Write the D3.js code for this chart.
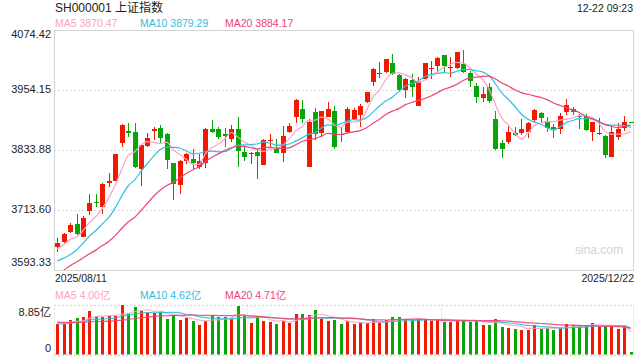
<!DOCTYPE html>
<html><head><meta charset="utf-8">
<script src="https://cdn.jsdelivr.net/npm/d3@7"></script>
<style>html,body{margin:0;padding:0;background:#fff;}svg{display:block;}</style>
</head><body>
<svg id="c" width="640" height="360"></svg>
<script>
// ---------- data ----------
const dates = [
"2025-08-11","2025-08-12","2025-08-13","2025-08-14","2025-08-15","2025-08-18","2025-08-19","2025-08-20","2025-08-21","2025-08-22",
"2025-08-25","2025-08-26","2025-08-27","2025-08-28","2025-08-29","2025-09-01","2025-09-02","2025-09-03","2025-09-04","2025-09-05",
"2025-09-08","2025-09-09","2025-09-10","2025-09-11","2025-09-12","2025-09-15","2025-09-16","2025-09-17","2025-09-18","2025-09-19",
"2025-09-22","2025-09-23","2025-09-24","2025-09-25","2025-09-26","2025-09-29","2025-09-30","2025-10-09","2025-10-10","2025-10-13",
"2025-10-14","2025-10-15","2025-10-16","2025-10-17","2025-10-20","2025-10-21","2025-10-22","2025-10-23","2025-10-24","2025-10-27",
"2025-10-28","2025-10-29","2025-10-30","2025-10-31","2025-11-03","2025-11-04","2025-11-05","2025-11-06","2025-11-07","2025-11-10",
"2025-11-11","2025-11-12","2025-11-13","2025-11-14","2025-11-17","2025-11-18","2025-11-19","2025-11-20","2025-11-21","2025-11-24",
"2025-11-25","2025-11-26","2025-11-27","2025-11-28","2025-12-01","2025-12-02","2025-12-03","2025-12-04","2025-12-05","2025-12-08",
"2025-12-09","2025-12-10","2025-12-11","2025-12-12","2025-12-15","2025-12-16","2025-12-17","2025-12-18","2025-12-19","2025-12-22"];

const opens = [
3638.8,3648.8,3670.1,3685.6,3660.1,3712.2,3730.0,3719.0,3768.0,3772.3,
3848.5,3872.6,3870.0,3796.4,3842.5,3871.4,3878.0,3865.9,3807.2,3763.1,
3812.4,3815.8,3800.0,3807.2,3876.6,3876.0,3865.3,3855.3,3875.4,3829.3,
3826.5,3829.3,3804.4,3851.5,3837.3,3828.5,3870.0,3899.4,3916.0,3800.4,
3910.7,3868.6,3899.4,3912.1,3866.0,3870.6,3895.4,3904.0,3930.7,3970.8,
3985.5,3989.6,4008.3,3984.2,3954.2,3974.2,3922.7,3975.6,3995.6,4002.9,
4024.3,3997.6,3997.6,4006.3,3988.8,3962.2,3938.7,3959.6,3896.0,3847.3,
3850.5,3867.4,3868.6,3870.6,3894.0,3907.4,3892.6,3880.6,3875.4,3910.7,
3916.0,3903.0,3902.6,3869.4,3866.0,3862.0,3820.4,3859.3,3877.4,3890.45];

const highs = [
3656.9,3668.1,3688.2,3705.6,3701.6,3745.7,3745.7,3767.1,3787.2,3826.5,
3885.0,3888.6,3887.4,3845.0,3867.4,3879.4,3884.6,3868.6,3808.4,3814.0,
3828.5,3835.3,3825.0,3877.0,3894.0,3879.4,3877.4,3884.0,3900.6,3839.3,
3830.5,3833.9,3855.3,3866.0,3856.5,3882.0,3887.4,3935.5,3934.1,3895.4,
3918.7,3912.7,3930.7,3922.1,3879.0,3919.4,3918.0,3926.0,3950.8,3998.8,
4010.9,4017.0,4026.3,3986.2,3977.6,3986.2,3979.6,4008.9,4012.3,4019.6,
4025.0,4020.9,4031.0,4034.3,3992.8,3967.6,3959.6,3968.8,3912.1,3854.0,
3882.0,3879.4,3895.4,3890.6,3915.4,3910.7,3900.6,3886.0,3907.4,3936.1,
3920.7,3906.0,3906.0,3890.0,3897.4,3863.0,3882.0,3887.4,3902.0,3890.6];

const lows = [
3630.0,3646.8,3667.0,3663.5,3658.9,3703.6,3720.3,3705.6,3759.1,3772.3,
3840.5,3860.5,3798.0,3761.7,3839.3,3854.0,3847.3,3795.2,3733.7,3745.7,
3805.8,3793.8,3796.0,3797.2,3867.4,3856.5,3839.3,3850.5,3800.4,3812.4,
3805.8,3775.1,3804.4,3839.3,3827.0,3809.8,3867.4,3887.4,3887.4,3800.4,
3853.9,3860.5,3899.4,3836.5,3850.0,3868.6,3894.0,3879.4,3928.7,3962.8,
3977.6,3987.6,3984.8,3952.8,3937.5,3939.5,3922.7,3974.2,3975.6,3990.8,
3990.8,3980.8,3995.6,3989.0,3959.6,3927.5,3930.7,3927.5,3834.0,3817.2,
3845.9,3862.0,3863.9,3857.3,3890.6,3887.4,3869.4,3858.5,3865.3,3904.0,
3904.0,3876.0,3872.0,3852.0,3863.9,3817.2,3819.2,3853.9,3872.6,3890.2];

const closes = [
3647.6,3665.9,3683.5,3666.4,3696.8,3728.0,3727.3,3766.2,3771.1,3825.8,
3883.6,3868.4,3800.4,3843.6,3857.9,3875.5,3858.1,3813.6,3765.9,3812.5,
3826.8,3807.3,3812.2,3875.3,3870.6,3860.5,3861.9,3876.3,3831.7,3820.1,
3828.6,3821.8,3853.6,3853.3,3828.1,3862.5,3882.8,3934.0,3897.0,3889.5,
3865.2,3912.2,3916.2,3839.8,3863.9,3916.3,3913.8,3922.4,3950.3,3996.9,
3988.2,4016.3,3986.9,3954.8,3976.5,3960.2,3969.3,4007.8,3997.6,4018.6,
4002.8,4000.1,4029.5,3990.5,3972.0,3939.8,3946.7,3931.1,3834.9,3836.8,
3870.0,3864.2,3875.3,3888.6,3914.0,3897.7,3878.0,3875.8,3902.8,3924.1,
3909.5,3900.5,3873.3,3889.4,3867.9,3824.8,3870.3,3876.4,3890.5,3890.44];

// volume, 亿
const volumes = [
5.39,5.39,6.09,6.39,6.62,7.67,6.74,6.57,6.80,6.80,
8.85,7.27,8.32,7.73,7.45,7.40,7.45,6.27,6.92,6.09,
6.39,5.97,5.27,5.97,6.92,6.57,6.68,6.27,8.60,6.80,
5.62,6.80,5.97,5.74,5.44,5.97,5.62,7.20,7.20,7.02,
7.90,6.27,5.92,6.09,5.39,5.92,5.39,5.62,5.50,6.21,
5.62,6.09,6.62,6.62,6.09,6.09,6.27,6.27,5.97,6.27,
5.80,5.80,6.09,6.09,5.80,5.92,5.27,5.27,6.27,4.92,
4.74,4.51,4.39,4.39,5.21,4.57,4.74,4.39,4.74,5.39,
5.30,5.04,5.04,5.62,5.04,5.04,5.04,4.51,5.04,0.40];

// sessions before the first visible day (needed for the moving averages)
const prevCloses = [3505.00,3503.78,3516.83,3534.48,3559.79,3581.86,3582.30,3605.73,3593.66,3597.94,
3609.71,3615.72,3573.21,3559.95,3583.31,3617.60,3633.99,3639.67,3635.13];
const prevVolumes = [6.2,5.8,6.4,5.9,6.1,6.3,5.7,5.9,5.8,5.9,5.3,4.8,5.1,4.9,4.9,5.6,6.1,5.9,6.0];

const priceTicks = [4074.42, 3954.15, 3833.88, 3713.60, 3593.33];
const volTicks = [8.85, 0];
const maPeriods = [5, 10, 20];
const maNames = ["MA5", "MA10", "MA20"];
const maPriceValues = ["3870.47", "3879.29", "3884.17"];
const maVolValues = ["4.00亿", "4.62亿", "4.71亿"];
const titleText = "SH000001 上证指数";
const timeText = "12-22 09:23";
const dateLabels = ["2025/08/11", "2025/12/22"];
const watermark = "sina.com";

// ---------- styles ----------
const FONT = '"Liberation Sans", Arial, "Noto Sans CJK SC", sans-serif';
const RED = "#f01a00", GREEN = "#07a507";
const MA_COLORS = ["#fba3c2", "#2ec0e3", "#ee4479"];
const GRID = "#dcdcdc";

const L = 54, R = 634, T = 30, B = 270, VT = 304.5, VB = 354.5;

const svg = d3.select("#c");
const x = d3.scaleBand().domain(dates).range([L, R]).paddingInner(0).paddingOuter(0);
const bw = x.bandwidth();
const cx = d => x(d) + bw / 2;
const y = d3.scaleLinear().domain([priceTicks[4], priceTicks[0]]).range([B, T]);
const yv = d3.scaleLinear().domain([0, volTicks[0]]).range([VB, VT]);

const rows = dates.map((d, i) => ({d, i, o: opens[i], h: highs[i], l: lows[i], c: closes[i], v: volumes[i]}));
const up = r => r.c > r.o || (r.c === r.o && (r.i === 0 || r.c >= closes[r.i - 1]));

function movingAvg(prev, cur, n) {
  const all = prev.concat(cur);
  const off = prev.length;
  return cur.map((_, i) => {
    const k = i + off;
    if (k < n - 1) return null;
    return d3.mean(all.slice(k - n + 1, k + 1));
  });
}

// clip paths
const defs = svg.append("defs");
defs.append("clipPath").attr("id", "clipMain").append("rect").attr("x", L).attr("y", T).attr("width", R - L).attr("height", B - T);
defs.append("clipPath").attr("id", "clipVol").append("rect").attr("x", L).attr("y", VT).attr("width", R - L).attr("height", VB - VT);

// ---------- header ----------
svg.append("text").attr("x", 55).attr("y", 11.5).attr("font-family", FONT).attr("font-size", 12).attr("fill", "#222").text(titleText);
svg.append("text").attr("x", 633).attr("y", 11.5).attr("text-anchor", "end").attr("font-family", FONT).attr("font-size", 10.5).attr("fill", "#222").text(timeText);
const legX = [55, 140, 225];
maNames.forEach((n, k) => {
  svg.append("text").attr("x", legX[k]).attr("y", 27).attr("font-family", FONT).attr("font-size", 10.5)
    .attr("fill", MA_COLORS[k]).text(n + " " + maPriceValues[k]);
  svg.append("text").attr("x", legX[k]).attr("y", 298.5).attr("font-family", FONT).attr("font-size", 10.5)
    .attr("fill", MA_COLORS[k]).text(n + " " + maVolValues[k]);
});

// ---------- main grid ----------
const grid = svg.append("g");
priceTicks.slice(1, 4).forEach(t => {
  grid.append("line").attr("x1", L).attr("x2", R).attr("y1", Math.round(y(t)) + 0.5).attr("y2", Math.round(y(t)) + 0.5)
    .attr("stroke", GRID).attr("stroke-dasharray", "2,2");
});
svg.append("rect").attr("x", L + 0.5).attr("y", T + 0.5).attr("width", R - L - 1).attr("height", B - T)
  .attr("fill", "none").attr("stroke", "#d4d4d4");

// price axis labels
priceTicks.forEach((t, k) => {
  let by = y(t) + 3;
  if (k === 0) by = y(t) + 8;
  if (k === priceTicks.length - 1) by = y(t) - 4;
  svg.append("text").attr("x", 51).attr("y", by).attr("text-anchor", "end").attr("font-family", FONT)
    .attr("font-size", 11).attr("fill", "#222").text(t.toFixed(2));
});

// watermark
svg.append("text").attr("x", 623).attr("y", 253.5).attr("text-anchor", "end").attr("font-family", FONT)
  .attr("font-size", 12).attr("fill", "#d2d2d2").text(watermark);

// ---------- candles ----------
const cg = svg.append("g").attr("clip-path", "url(#clipMain)").attr("shape-rendering", "crispEdges");
const bodyW = Math.round(bw * 0.74);
cg.selectAll("line.wick").data(rows).join("line").attr("class", "wick")
  .attr("x1", r => Math.round(cx(r.d)) + 0.5).attr("x2", r => Math.round(cx(r.d)) + 0.5)
  .attr("y1", r => y(r.h)).attr("y2", r => y(r.l))
  .attr("stroke", r => up(r) ? RED : GREEN).attr("stroke-width", 1);
cg.selectAll("rect.body").data(rows).join("rect").attr("class", "body")
  .attr("x", r => Math.round(cx(r.d)) + 0.5 - bodyW / 2)
  .attr("y", r => Math.min(y(r.o), y(r.c)))
  .attr("width", bodyW)
  .attr("height", r => Math.max(1, Math.abs(y(r.o) - y(r.c))))
  .attr("fill", r => up(r) ? RED : GREEN);

// MA lines on price
const mg = svg.append("g").attr("clip-path", "url(#clipMain)");
maPeriods.forEach((n, k) => {
  const m = movingAvg(prevCloses, closes, n);
  const line = d3.line().defined(v => v != null).x((v, i) => cx(dates[i])).y(v => y(v)).curve(d3.curveMonotoneX);
  mg.append("path").attr("d", line(m)).attr("fill", "none").attr("stroke", MA_COLORS[k]).attr("stroke-width", 1.2);
});

// x labels
svg.append("text").attr("x", 55).attr("y", 282).attr("font-family", FONT).attr("font-size", 10.5).attr("fill", "#222").text(dateLabels[0]);
svg.append("text").attr("x", 634).attr("y", 282).attr("text-anchor", "end").attr("font-family", FONT).attr("font-size", 10.5).attr("fill", "#222").text(dateLabels[1]);

// ---------- volume panel ----------
const vg = svg.append("g");
[[L, VT, R, VT], [L, VB, R, VB]].forEach(s => vg.append("line").attr("x1", s[0]).attr("x2", s[2]).attr("y1", Math.round(s[1]) + 0.5).attr("y2", Math.round(s[1]) + 0.5)
  .attr("stroke", GRID).attr("stroke-width", 1.5).attr("stroke-dasharray", "2,2"));
[L, L + (R - L) / 3, L + 2 * (R - L) / 3, R - 1].forEach(px => vg.append("line").attr("x1", Math.round(px) + 0.5).attr("x2", Math.round(px) + 0.5)
  .attr("y1", VT).attr("y2", VB).attr("stroke", GRID).attr("stroke-width", 1).attr("stroke-dasharray", "2,2"));

const vb = svg.append("g").attr("clip-path", "url(#clipVol)").attr("shape-rendering", "crispEdges");
const volW = Math.max(2, Math.round(bw * 0.45));
vb.selectAll("rect").data(rows).join("rect")
  .attr("x", r => Math.round(cx(r.d)) + 0.5 - volW / 2)
  .attr("y", r => yv(r.v)).attr("width", volW).attr("height", r => VB - yv(r.v))
  .attr("fill", r => up(r) ? RED : GREEN);

const vm = svg.append("g").attr("clip-path", "url(#clipVol)");
maPeriods.forEach((n, k) => {
  const m = movingAvg(prevVolumes, volumes, n);
  const line = d3.line().defined(v => v != null).x((v, i) => cx(dates[i])).y(v => yv(v)).curve(d3.curveMonotoneX);
  vm.append("path").attr("d", line(m)).attr("fill", "none").attr("stroke", MA_COLORS[k]).attr("stroke-width", 1.2).attr("opacity", 0.9);
});

volTicks.forEach((t, k) => {
  const label = k === 0 ? t.toFixed(2) + "亿" : "0";
  const by = k === 0 ? yv(t) + 11.5 : yv(t) - 2.5;
  svg.append("text").attr("x", 51).attr("y", by).attr("text-anchor", "end").attr("font-family", FONT)
    .attr("font-size", 11).attr("fill", "#222").text(label);
});
</script>
</body></html>
